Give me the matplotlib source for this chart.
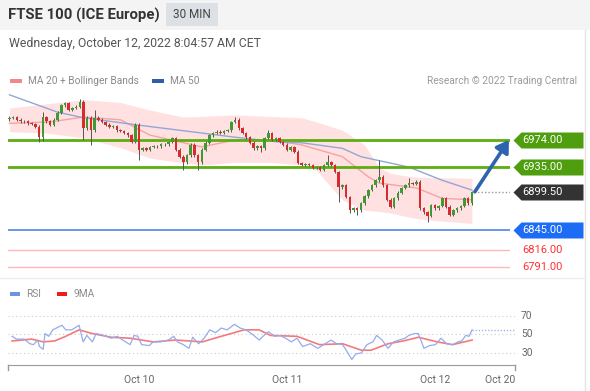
import numpy as np
import matplotlib.pyplot as plt
from matplotlib.path import Path
from matplotlib.patches import Rectangle

plt.rcParams['font.family'] = ['Roboto', 'DejaVu Sans']

# 30 MIN CANDLES
opens = [7004, 7006, 7007, 7003, 7001, 7001, 6998, 6997, 6993, 6978,
         7007, 7001, 6996, 7003, 7013, 7024, 7027, 7017, 7020, 7022,
         7029, 6991, 7006, 6988, 7006, 7003, 7000, 6996, 6993, 6994,
         6988, 6987, 6984, 6981, 6971, 6996, 6960, 6962, 6960, 6964,
         6965, 6965, 6968, 6968, 6971, 6977, 6960, 6950, 6942, 6952,
         6967, 6952, 6942, 6960, 6970, 6981, 6984, 6986, 6984, 6987,
         6988, 7000, 7003, 6991, 6984, 6978, 6970, 6962, 6965, 6962,
         6977, 6984, 6974, 6977, 6971, 6967, 6960, 6964, 6957, 6941,
         6938, 6939, 6938, 6934, 6935, 6931, 6938, 6942, 6938, 6928,
         6906, 6909, 6892, 6873, 6876, 6873, 6883, 6893, 6902, 6909,
         6916, 6921, 6909, 6888, 6878, 6890, 6898, 6905, 6909, 6912,
         6911, 6914, 6876, 6870, 6865, 6880, 6876, 6879, 6890, 6878,
         6866, 6873, 6876, 6879, 6890, 6883]
closes = [7006, 7007, 7003, 7001, 7001, 6998, 6997, 6993, 6978, 7007,
          7001, 6996, 7003, 7013, 7024, 7027, 7017, 7020, 7022, 7029,
          6991, 7006, 6988, 7006, 7003, 7000, 6996, 6993, 6994, 6988,
          6987, 6984, 6981, 6971, 6996, 6960, 6962, 6960, 6964, 6965,
          6965, 6968, 6968, 6971, 6977, 6960, 6950, 6942, 6952, 6967,
          6952, 6942, 6960, 6970, 6981, 6984, 6986, 6984, 6987, 6988,
          7000, 7003, 6991, 6984, 6978, 6970, 6962, 6965, 6962, 6977,
          6984, 6974, 6977, 6971, 6967, 6960, 6964, 6957, 6941, 6938,
          6939, 6938, 6934, 6935, 6931, 6938, 6942, 6938, 6928, 6906,
          6909, 6892, 6873, 6876, 6873, 6883, 6893, 6902, 6909, 6916,
          6921, 6909, 6888, 6878, 6890, 6898, 6905, 6909, 6912, 6911,
          6914, 6876, 6870, 6865, 6880, 6876, 6879, 6890, 6878, 6866,
          6873, 6876, 6879, 6890, 6883, 6899.5]
highs = [7008, 7009, 7009, 7005, 7003, 7003, 7000, 6999, 6995, 7014,
         7009, 7003, 7005, 7015, 7026, 7029, 7029, 7022, 7024, 7033,
         7031, 7008, 7008, 7017, 7008, 7005, 7002, 6998, 6996, 6996,
         6990, 6989, 6986, 6983, 6998, 6998, 6964, 6964, 6966, 6967,
         6967, 6970, 6970, 6973, 6979, 6979, 6962, 6952, 6954, 6969,
         6969, 6954, 6962, 6972, 6983, 6986, 6988, 6988, 6989, 6990,
         7002, 7007, 7005, 6993, 6986, 6980, 6972, 6967, 6967, 6979,
         6988, 6986, 6979, 6979, 6973, 6969, 6966, 6966, 6959, 6943,
         6941, 6941, 6940, 6937, 6937, 6940, 6952, 6944, 6940, 6930,
         6911, 6911, 6894, 6878, 6878, 6885, 6895, 6904, 6911, 6918,
         6945, 6923, 6911, 6890, 6892, 6900, 6907, 6911, 6919, 6914,
         6916, 6916, 6878, 6872, 6882, 6882, 6881, 6892, 6892, 6880,
         6875, 6878, 6881, 6892, 6892, 6901]
lows = [7002, 7004, 7001, 6999, 6999, 6996, 6995, 6991, 6971, 6972,
        6999, 6994, 6994, 7001, 7011, 7022, 7015, 7015, 7018, 7020,
        6974, 6989, 6967, 6986, 7001, 6998, 6994, 6991, 6991, 6986,
        6985, 6982, 6979, 6969, 6969, 6945, 6958, 6958, 6958, 6962,
        6963, 6963, 6966, 6966, 6969, 6958, 6948, 6931, 6940, 6950,
        6950, 6931, 6940, 6958, 6968, 6979, 6982, 6982, 6982, 6985,
        6986, 6998, 6989, 6982, 6976, 6968, 6960, 6960, 6957, 6960,
        6975, 6972, 6972, 6969, 6965, 6958, 6958, 6955, 6939, 6936,
        6936, 6936, 6932, 6932, 6929, 6929, 6936, 6936, 6926, 6885,
        6904, 6890, 6869, 6871, 6866, 6871, 6881, 6891, 6900, 6907,
        6914, 6907, 6886, 6876, 6876, 6888, 6896, 6903, 6907, 6909,
        6909, 6874, 6868, 6856, 6863, 6874, 6874, 6877, 6876, 6864,
        6864, 6871, 6874, 6877, 6881, 6881]

# INDICATORS
ma50_idx = [0, 13, 20, 34, 52, 61, 73, 79, 90, 95, 108, 117, 125]
ma50 = [7039, 7014, 7006, 6996, 6984, 6978, 6971, 6970, 6962, 6950, 6935, 6916, 6902]
ma20_idx = [0, 11, 20, 30, 38, 52, 61, 70, 79, 90, 97, 100, 110, 117, 125]
ma20 = [6998, 7000, 7007, 7003, 6981, 6964, 6974, 6974, 6967, 6950, 6921, 6912, 6905, 6890, 6888]
band_idx = [0, 10, 20, 30, 38, 47, 52, 61, 70, 79, 83, 90, 96, 100, 103, 109, 113, 125]
band_upper = [7020, 7026, 7032, 7028, 7017, 7007, 7008, 7010, 7008, 7006, 7000, 6988,
              6967, 6934, 6926, 6921, 6920, 6919]
band_lower = [6986, 6984, 6977, 6963, 6948, 6941, 6938, 6942, 6942, 6938, 6930, 6888,
              6873, 6871, 6869, 6862, 6859, 6854]

# KEY LEVELS
resist_levels = [6974.00, 6935.00]
last_price = 6899.50
pivot_level = 6845.00
support_levels = [6816.00, 6791.00]

# RSI PANEL
rsi_idx = [0.7, 1.9, 4.0, 5.5, 6.5, 7.6, 8.1, 9.1, 9.6, 10.6, 11.7, 14.2, 15.2, 16.8, 18.8,
           19.9, 20.9, 22.4, 23.4, 25.5, 27.5, 29.1, 30.6, 32.6, 33.7, 34.7, 35.7, 37.8,
           38.8, 40.8, 42.9, 44.4, 45.4, 47.0, 48.5, 49.5, 51.1, 52.6, 54.1, 55.7, 57.2,
           58.8, 60.8, 62.3, 63.9, 65.4, 67.5, 68.5, 70.0, 71.6, 73.1, 74.6, 76.2, 77.7,
           79.2, 81.3, 83.3, 84.9, 86.9, 88.4, 90.0, 91.0, 92.5, 93.6, 95.1, 96.6, 98.2,
           99.2, 100.7, 102.3, 103.8, 105.3, 106.9, 107.9, 109.4, 110.5, 112.0, 113.5,
           115.1, 116.6, 118.1, 119.7, 121.2, 122.2, 123.3, 124.2, 125.0]
rsi = [48, 45, 45, 40, 39, 44, 37, 34, 51, 48, 55, 60, 55, 55, 60,
       42, 49, 42, 51, 49, 46, 48, 44, 39, 49, 48, 39, 38,
       42, 42, 44, 48, 42, 39, 35, 47, 40, 46, 55, 52, 57,
       55, 61, 57, 55, 51, 44, 48, 53, 48, 49, 46, 42, 46,
       37, 40, 35, 39, 44, 40, 39, 33, 23, 29, 30, 39, 42,
       49, 44, 35, 42, 44, 46, 49, 51, 51, 35, 38,
       39, 46, 40, 39, 42, 43, 49, 48, 55]
rsi_ma_idx = [0.7, 6.0, 9.1, 12.2, 15.2, 18.8, 22.4, 27.5, 32.6, 38.8, 44.9, 52.1, 57.2,
              63.4, 67.5, 70.5, 77.7, 83.8, 90.0, 95.1, 97.7, 102.3, 106.4, 110.5, 115.6,
              119.7, 125.0]
rsi_ma = [43, 45, 42, 43, 48, 55, 51, 47, 46, 42, 44, 42, 48, 55, 55, 49, 48, 39, 40,
          33, 33, 40, 43, 47, 42, 39, 44]
rsi_levels = [70, 50, 30]

day_pos = [35, 75, 115, 132.6]
day_labels = ["Oct 10", "Oct 11", "Oct 12", "Oct 20"]

W, H = 590, 391
fig = plt.figure(figsize=(W / 100, H / 100), dpi=100)

# BACKGROUND / HEADER (pixel coords)
bg = fig.add_axes([0, 0, 1, 1])
bg.set_xlim(0, W)
bg.set_ylim(H, 0)
bg.axis("off")
bg.add_patch(Rectangle((0, 0), W, 30, color="#f4f4f4", lw=0))
bg.add_patch(Rectangle((166, 3), 52, 23, color="#dde1e6", lw=0))
bg.text(8, 15, "FTSE 100 (ICE Europe)", fontsize=10.7, fontweight="bold", color="#333333", va="center")
bg.text(192, 15, "30 MIN", fontsize=8.5, color="#444444", va="center", ha="center")
bg.text(9, 44, "Wednesday, October 12, 2022 8:04:57 AM CET", fontsize=8.8, color="#555555", va="center")
bg.add_patch(Rectangle((10, 79), 12, 4, color="#f08a8a", lw=0))
bg.text(28, 81, "MA 20 + Bollinger Bands", fontsize=7.3, color="#8a8a8a", va="center")
bg.add_patch(Rectangle((152, 79), 12, 4, color="#2f5ea6", lw=0))
bg.text(170, 81, "MA 50", fontsize=7.3, color="#8a8a8a", va="center")
bg.text(577, 81, "Research \u00a9 2022 Trading Central", fontsize=7.3, color="#9a9a9a", va="center", ha="right")
bg.plot([585, 585], [30, H], color="#e4e4e4", lw=1)
bg.plot([0, 585], [278, 278], color="#ececec", lw=1)
bg.add_patch(Rectangle((10, 292), 10, 4, color="#6f93e0", lw=0))
bg.text(26, 294, "RSI", fontsize=7.3, color="#8a8a8a", va="center")
bg.add_patch(Rectangle((57, 292), 10, 4, color="#ee1c1c", lw=0))
bg.text(73, 294, "9MA", fontsize=7.3, color="#8a8a8a", va="center")

# PRICE PANEL
ax = fig.add_axes([8 / W, 1 - 275 / H, 502 / W, 187 / H])
ax.set_xlim(-0.4, 135.3)
ax.set_ylim(6779.8, 7048.8)
ax.axis("off")

idx = np.arange(len(closes))
o = np.array(opens)
c = np.array(closes)
up = c >= o

ax.fill_between(band_idx, band_lower, band_upper, color="#ffe1e1", lw=0, zorder=1)
ax.plot(ma20_idx, ma20, color="#f6a3a3", lw=1, zorder=2)
ax.plot(ma50_idx, ma50, color="#93a6d6", lw=1, zorder=2)

for lvl in resist_levels:
    ax.axhline(lvl, color="#5cae12", lw=2, zorder=3)
ax.axhline(pivot_level, color="#5d8ef0", lw=1.3, zorder=3)
for lvl in support_levels:
    ax.axhline(lvl, color="#ffb8b8", lw=1, zorder=3)

ax.vlines(idx, lows, highs, color="#555555", lw=0.7, zorder=4)
body_bottom = np.minimum(o, c)
body_h = np.maximum(np.abs(c - o), 0.8)
ax.bar(idx[up], body_h[up], bottom=body_bottom[up], width=0.68, color="#3f9a34", zorder=5)
ax.bar(idx[~up], body_h[~up], bottom=body_bottom[~up], width=0.68, color="#d92b2b", zorder=5)

ax.plot([idx[-1] + 0.5, 135.3], [last_price, last_price], color="#999999", lw=1,
        ls=(0, (1, 1.5)), zorder=3)

ax.annotate("", xy=(135.0, resist_levels[0]), xytext=(idx[-1] + 0.8, closes[-1]),
            arrowprops=dict(arrowstyle="-|>,head_length=0.7,head_width=0.45", color="#2e63ae",
                            lw=2.6, shrinkA=0, shrinkB=0), zorder=6)

# PRICE TAGS
tag = Path([(-35, 0), (-27, 8), (35, 8), (35, -8), (-27, -8), (-35, 0)],
           [Path.MOVETO, Path.LINETO, Path.LINETO, Path.LINETO, Path.LINETO, Path.CLOSEPOLY])
tr = ax.get_yaxis_transform()
tag_x = (547.5 - 8) / 502
txt_x = (522 - 8) / 502
tags = [(resist_levels[0], "#4e9e0e"), (resist_levels[1], "#4e9e0e"),
        (last_price, "#333333"), (pivot_level, "#1d6cf5")]
for lvl, col in tags:
    ax.plot([tag_x], [lvl], transform=tr, marker=tag, ms=50.4, mfc=col, mec="none",
            ls="none", clip_on=False, zorder=7)
    ax.text(txt_x, lvl, f"{lvl:.2f}", transform=tr, color="white", fontsize=8,
            va="center", ha="left", clip_on=False, zorder=8)
for lvl in support_levels:
    ax.text(txt_x, lvl, f"{lvl:.2f}", transform=tr, color="#ff3030", fontsize=8,
            va="center", ha="left", clip_on=False)

# RSI PANEL
ax2 = fig.add_axes([8 / W, 1 - 365 / H, 507 / W, 65 / H])
ax2.set_xlim(-0.4, 136.6)
ax2.set_ylim(17.0, 87.3)
for s in ["top", "left", "right"]:
    ax2.spines[s].set_visible(False)
ax2.spines["bottom"].set_color("#9a9a9a")
ax2.set_yticks([])
ax2.set_xticks(day_pos)
ax2.set_xticklabels(day_labels)
ax2.tick_params(axis="x", length=0, pad=7, labelsize=7.5, labelcolor="#666666")
ax2.plot([0, 0], [0, -0.08], transform=ax2.transAxes, color="#9a9a9a", lw=1, clip_on=False)
ax2.plot([1, 1], [0, -0.08], transform=ax2.transAxes, color="#9a9a9a", lw=1, clip_on=False)
for lvl in rsi_levels:
    ax2.axhline(lvl, color="#cccccc", lw=0.8, ls=(0, (1, 2.5)))
    ax2.text(1.012, lvl, str(lvl), transform=ax2.get_yaxis_transform(), fontsize=7.3,
             color="#666666", va="center", ha="left")
ax2.plot(rsi_ma_idx, rsi_ma, color="#f47a7a", lw=1.2)
ax2.plot(rsi_idx, rsi, color="#94acec", lw=0.9)
ax2.plot([rsi_idx[-1], 136.6], [rsi[-1], rsi[-1]], color="#94acec", lw=0.9, ls=(0, (1, 1.5)))

fig.savefig("out.png", dpi=100)
